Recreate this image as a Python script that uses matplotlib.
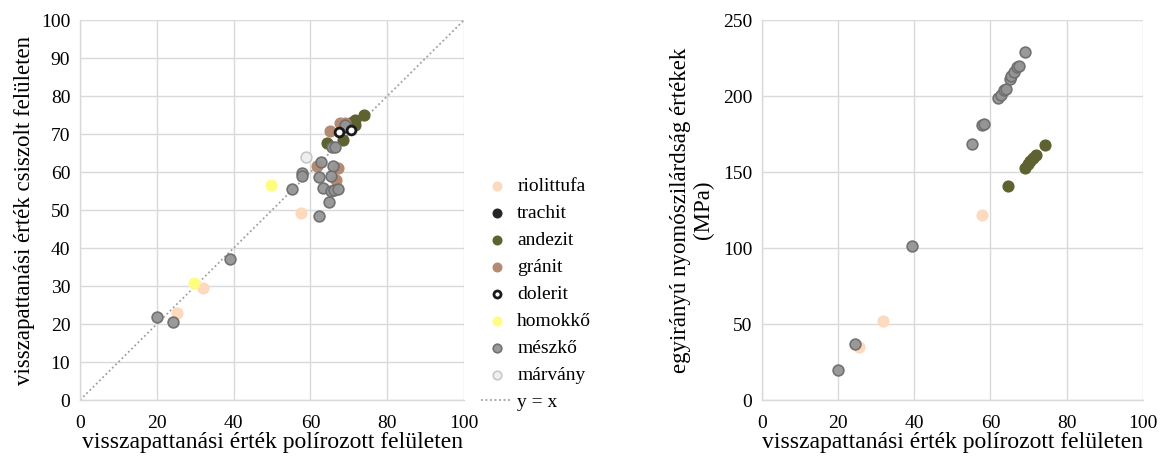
import matplotlib.pyplot as plt

plt.rcParams['font.family'] = ['Liberation Serif', 'DejaVu Serif']

# left chart: polished vs ground surface rebound values
rio_pol = [25.3, 32.0, 57.6]
rio_cs = [23.0, 29.4, 49.2]
tra_pol = [69.0]
tra_cs = [72.0]
and_pol = [64.3, 68.6, 70.3, 71.6, 71.6, 73.9]
and_cs = [67.7, 68.4, 73.0, 72.4, 73.7, 75.0]
gra_pol = [61.7, 67.2, 66.7, 65.1, 67.7, 69.0]
gra_cs = [61.6, 61.0, 57.9, 70.8, 72.9, 73.0]
dol_pol = [67.4, 70.6]
dol_cs = [70.5, 71.0]
hom_pol = [29.6, 49.7]
hom_cs = [30.7, 56.6]
mes_pol = [20.1, 24.3, 39.1, 55.2, 57.8, 57.8, 62.2, 62.8, 65.9, 65.4, 63.3,
           65.4, 66.1, 67.2, 64.8, 62.2, 65.6, 66.4, 69.0]
mes_cs = [21.8, 20.5, 37.1, 55.5, 59.7, 59.0, 58.7, 62.6, 61.6, 59.0, 55.8,
          55.0, 55.3, 55.5, 52.1, 48.4, 66.6, 66.6, 72.4]
mar_pol = [58.8]
mar_cs = [64.0]

# right chart: polished rebound vs uniaxial compressive strength
rio_pol_r = [25.5, 31.8, 57.7]
rio_mpa = [35, 52, 122]
and_pol_r = [64.5, 69.0, 69.8, 70.5, 71.2, 72.0, 74.4]
and_mpa = [141, 153, 155, 157.5, 159.5, 161.5, 167.8]
mes_pol_r = [20.1, 24.5, 39.4, 55.1, 57.7, 58.2, 62.0, 62.8, 63.5, 64.0, 65.0,
             65.5, 66.2, 67.0, 67.5, 69.0]
mes_mpa = [20, 37, 101.5, 168.4, 181, 181.6, 199, 201, 204, 205, 211, 213,
           216, 219, 220, 229]

grid_c = '#d9d9d9'
s = 60

fig = plt.figure(figsize=(11.65, 4.61), dpi=100)
ax1 = fig.add_axes([0.0687, 0.1323, 0.3296, 0.824])
ax2 = fig.add_axes([0.654, 0.1323, 0.327, 0.824])

for ax in (ax1, ax2):
    ax.set_axisbelow(True)
    ax.grid(True, color=grid_c, linewidth=1)
    for sp in ('top', 'right'):
        ax.spines[sp].set_visible(False)
    for sp in ('left', 'bottom'):
        ax.spines[sp].set_color(grid_c)
        ax.spines[sp].set_linewidth(1)
    ax.tick_params(length=0, labelsize=14, pad=7)
    ax.tick_params(axis='x', pad=11)
    ax.set_xlim(0, 100)
    ax.set_xticks(range(0, 101, 20))
    ax.set_xlabel('visszapattanási érték polírozott felületen', fontsize=17, labelpad=0)

ax1.set_ylim(0, 100)
ax1.set_yticks(range(0, 101, 10))
ax1.set_ylabel('visszapattanási érték csiszolt felületen', fontsize=16.5, labelpad=4)

ax1.scatter(rio_pol, rio_cs, s=s, color='#fdd9bd', label='riolittufa', zorder=3)
ax1.scatter(tra_pol, tra_cs, s=s, color='#262626', label='trachit', zorder=3)
ax1.scatter(and_pol, and_cs, s=s, color='#5e6130', label='andezit', zorder=3)
ax1.scatter(gra_pol, gra_cs, s=s, color='#b58a72', label='gránit', zorder=3)
ax1.scatter(dol_pol, dol_cs, s=40, facecolor='white', edgecolor='#1a1a1a',
            linewidth=2, label='dolerit', zorder=5)
ax1.scatter(hom_pol, hom_cs, s=s, color='#fdfd80', label='homokkő', zorder=3)
ax1.scatter(mes_pol, mes_cs, s=s, facecolor='#959595', edgecolor='#6e6e6e',
            linewidth=1.2, alpha=0.95, label='mészkő', zorder=4)
ax1.scatter(mar_pol, mar_cs, s=s, facecolor='#efefef', edgecolor='#c8c8c8',
            linewidth=1.2, label='márvány', zorder=3)
ax1.plot([0, 100], [0, 100], linestyle=(0, (1, 1.5)), color='#a0a0a0',
         linewidth=1.3, label='y = x', zorder=2)

handles, labels = ax1.get_legend_handles_labels()
order = labels.index('y = x')
handles = handles[:order] + handles[order + 1:] + [handles[order]]
labels = labels[:order] + labels[order + 1:] + [labels[order]]
fig.legend(handles, labels, loc='center left', bbox_to_anchor=(0.398, 0.362),
           frameon=False, fontsize=14, labelspacing=0.48, handlelength=1.6,
           handletextpad=0.25, markerscale=0.8)

ax2.set_ylim(0, 250)
ax2.set_yticks(range(0, 251, 50))
ax2.set_ylabel('egyirányú nyomószilárdság értékek\n(MPa)', fontsize=16.5,
               linespacing=1.15, labelpad=6)
ax2.scatter(rio_pol_r, rio_mpa, s=s, color='#fdd9bd', zorder=3)
ax2.scatter(and_pol_r, and_mpa, s=s, color='#5e6130', zorder=3)
ax2.scatter(mes_pol_r, mes_mpa, s=s, facecolor='#959595', edgecolor='#6e6e6e',
            linewidth=1.2, alpha=0.95, zorder=4)

fig.savefig('out.png', dpi=100)
